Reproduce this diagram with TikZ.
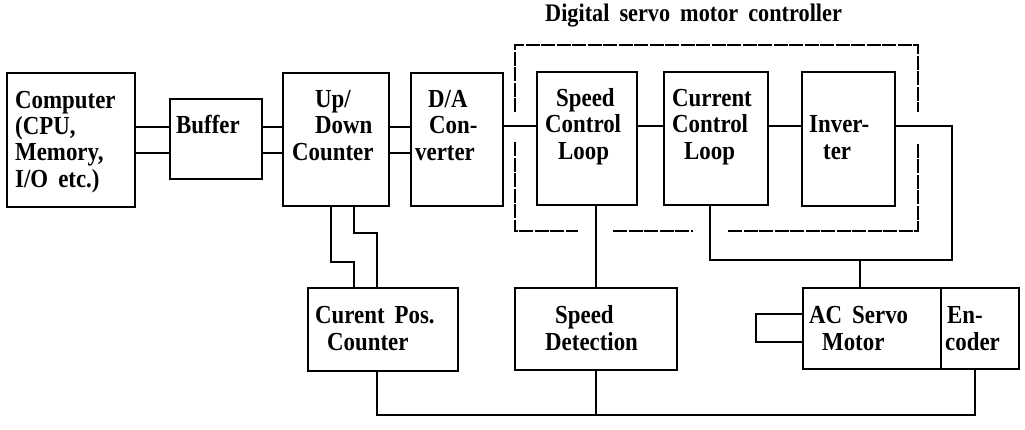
\documentclass[tikz,border=0pt]{standalone}
\usepackage{fontspec}
\setmainfont{Liberation Serif}
\newfontfamily\heavyfont{Liberation Serif Bold}[FakeStretch=0.88]
\newcommand\boxfont{\heavyfont\fontsize{26}{26.3}\selectfont\spaceskip=10pt\relax}
\newcommand\titlefont{\heavyfont\fontsize{25.3}{26}\selectfont\spaceskip=10pt\relax}
\begin{document}
\begin{tikzpicture}[x=1pt,y=-1pt,
  box/.style={draw, line width=1.8pt, inner sep=0pt},
  txt/.style={anchor=base west, align=left, inner sep=0pt, font=\boxfont},
  wire/.style={line width=1.8pt},
  frame/.style={line width=1.3pt, dash pattern=on 14pt off 1.5pt}]
\useasboundingbox (0,0) rectangle (1025,429);
% boxes
\node[box, minimum width=128, minimum height=134] (comp) at (71,140) {};
\node[box, minimum width=92, minimum height=80] (buf) at (216,139) {};
\node[box, minimum width=106, minimum height=133] (ud) at (336,139.5) {};
\node[box, minimum width=92, minimum height=133] (da) at (457,139.5) {};
\node[box, minimum width=100, minimum height=133] (scl) at (587,138.5) {};
\node[box, minimum width=104, minimum height=133] (ccl) at (716,138.5) {};
\node[box, minimum width=93, minimum height=134] (inv) at (848.5,139) {};
\node[box, minimum width=150, minimum height=83] (cpc) at (383,329.5) {};
\node[box, minimum width=162, minimum height=82] (sd) at (596,329) {};
\node[box, minimum width=138, minimum height=81] (mot) at (872,328.5) {};
\node[box, minimum width=78, minimum height=81] (enc) at (980,328.5) {};
% texts (anchor = baseline of the last line)
\node[txt] (compT) at (15,187) {Computer\\(CPU,\\Memory,\\I/O etc.)};
\node[txt] (bufT) at (176,133) {Buffer};
\node[txt] (udT) at (292,160) {\hspace*{23pt}Up/\\\hspace*{23pt}Down\\Counter};
\node[txt] (daT) at (415,160) {\hspace*{13pt}D/A\\\hspace*{14pt}Con-\\verter};
\node[txt] (sclT) at (545,159) {\hspace*{11pt}Speed\\Control\\\hspace*{13pt}Loop};
\node[txt] (cclT) at (672,159) {Current\\Control\\\hspace*{12pt}Loop};
\node[txt] (invT) at (809,159) {Inver-\\\hspace*{14pt}ter};
\node[txt] (cpcT) at (315,350) {Curent Pos.\\\hspace*{12pt}Counter};
\node[txt] (sdT) at (545,350) {\hspace*{10pt}Speed\\Detection};
\node[txt] (motT) at (809,350) {AC Servo\\\hspace*{13pt}Motor};
\node[txt] (encT) at (945,350) {\hspace*{2pt}En-\\coder};
\node[txt, font=\titlefont] (title) at (545,21) {Digital servo motor controller};
% connectors
\coordinate (jr) at (952,260);
\coordinate (bl) at (975,415);
\draw[wire] (comp.east |- 0,127) -- (buf.west |- 0,127);
\draw[wire] (comp.east |- 0,153) -- (buf.west |- 0,153);
\draw[wire] (buf.east |- 0,127) -- (ud.west |- 0,127);
\draw[wire] (buf.east |- 0,153) -- (ud.west |- 0,153);
\draw[wire] (ud.east |- 0,127) -- (da.west |- 0,127);
\draw[wire] (ud.east |- 0,153) -- (da.west |- 0,153);
\draw[wire] (da.east |- 0,126) -- (scl.west |- 0,126);
\draw[wire] (scl.east |- 0,126) -- (ccl.west |- 0,126);
\draw[wire] (ccl.east |- 0,126) -- (inv.west |- 0,126);
\draw[wire] (inv.east |- 0,126) -| (jr) -| (ccl.south -| 710,0);
\draw[wire] (jr -| 860,0) -- (mot.north -| 860,0);
\draw[wire] (scl.south -| sd.north) -- (sd.north);
\draw[wire] (sd.south) -- (sd.south |- bl);
\draw[wire] (ud.south -| 331,0) |- (354,262) -- (cpc.north -| 354,0);
\draw[wire] (ud.south -| 354,0) |- (377,233) -- (cpc.north -| 377,0);
\draw[wire] (cpc.south -| 377,0) |- (bl) -- (enc.south -| bl);
\draw[wire] (mot.west |- 0,314) -- (756,314) -- (756,342) -- (mot.west |- 0,342);
% dashed frame of the digital servo motor controller
\draw[frame] (515,112) -- (515,45) -- (918,45) -- (918,112);
\draw[frame] (515,142) -- (515,231) -- (578,231);
\draw[frame] (613,231) -- (693,231);
\draw[frame] (728,231) -- (918,231) -- (918,142);
\end{tikzpicture}
\end{document}
